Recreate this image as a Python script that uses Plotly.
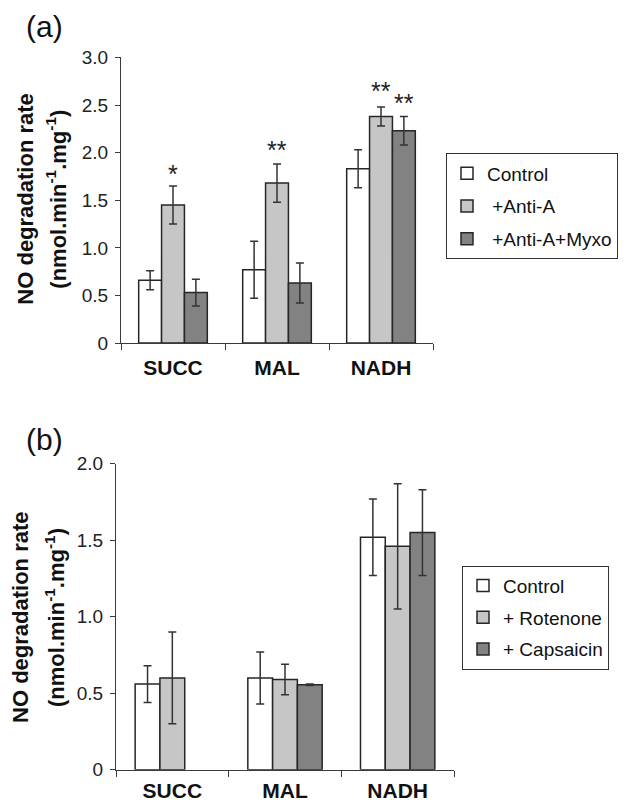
import plotly.graph_objects as go

W, H = 624, 812

categories = ["SUCC", "MAL", "NADH"]

# Panel (a)
a_names = ["Control", " +Anti-A", " +Anti-A+Myxo"]
a_control = [0.66, 0.77, 1.83]
a_control_err = [0.10, 0.30, 0.20]
a_antiA = [1.45, 1.68, 2.38]
a_antiA_err = [0.20, 0.20, 0.10]
a_myxo = [0.53, 0.63, 2.23]
a_myxo_err = [0.14, 0.21, 0.15]
a_stars = [("SUCC", 1, "*", 1.82), ("MAL", 1, "**", 2.07),
           ("NADH", 1, "**", 2.69), ("NADH", 2, "**", 2.56)]
a_ticks = [0, 0.5, 1.0, 1.5, 2.0, 2.5, 3.0]
a_ticktext = ["0", "0.5", "1.0", "1.5", "2.0", "2.5", "3.0"]

# Panel (b)
b_names = ["Control", "+ Rotenone", "+ Capsaicin"]
b_control = [0.56, 0.60, 1.52]
b_control_err = [0.12, 0.17, 0.25]
b_rot = [0.60, 0.59, 1.46]
b_rot_err = [0.30, 0.10, 0.41]
b_caps = [None, 0.555, 1.55]
b_caps_err = [0, 0.005, 0.28]
b_ticks = [0, 0.5, 1.0, 1.5, 2.0]
b_ticktext = ["0", "0.5", "1.0", "1.5", "2.0"]

colors = ["#ffffff", "#c6c6c6", "#828282"]
edge = "#262626"
axis_col = "#3a3a3a"
FONT = "Liberation Sans, Arial, sans-serif"

def px_x(p):
    return p / W

def px_y(p):
    return 1 - p / H

fig = go.Figure()

a_series = [(a_control, a_control_err), (a_antiA, a_antiA_err), (a_myxo, a_myxo_err)]
for i, (vals, errs) in enumerate(a_series):
    fig.add_trace(go.Bar(
        x=categories, y=vals, name=a_names[i], xaxis="x", yaxis="y",
        marker=dict(color=colors[i], line=dict(color=edge, width=1.5)),
        error_y=dict(type="data", array=errs, color="#333333", thickness=1.5, width=4),
        legend="legend", legendgroup="a%d" % i,
    ))

b_series = [(b_control, b_control_err), (b_rot, b_rot_err), (b_caps, b_caps_err)]
for i, (vals, errs) in enumerate(b_series):
    fig.add_trace(go.Bar(
        x=categories, y=vals, name=b_names[i], xaxis="x2", yaxis="y2",
        marker=dict(color=colors[i], line=dict(color=edge, width=1.5)),
        error_y=dict(type="data", array=errs, color="#333333", thickness=1.5, width=4),
        legend="legend2", legendgroup="b%d" % i,
    ))

bargap = 0.34
xa_dom = [px_x(121), px_x(433)]
ya_dom = [px_y(341.9), px_y(48.7)]
xb_dom = [px_x(116), px_x(454)]
yb_dom = [px_y(779.9), px_y(465.8)]

def xaxis(domain, anchor, standoff):
    return dict(domain=domain, anchor=anchor, type="category",
                categoryorder="array", categoryarray=categories,
                range=[-0.5, 2.5], showline=True, linecolor=axis_col, linewidth=1.3,
                ticks="outside", ticklen=6, tickcolor=axis_col, tickwidth=1.3,
                tickson="boundaries", showgrid=False, zeroline=False,
                ticklabelstandoff=standoff,
                tickfont=dict(family=FONT, size=21, color="#111111", weight="bold"))

def yaxis(domain, anchor, rng, tv, tt):
    return dict(domain=domain, anchor=anchor, range=rng, showline=True,
                linecolor=axis_col, linewidth=1.3, ticks="outside", ticklen=5,
                tickcolor=axis_col, tickwidth=1.3, tickvals=tv, ticktext=tt,
                showgrid=False, zeroline=False, ticklabelstandoff=3,
                tickfont=dict(family=FONT, size=19, color="#222222"))

fig.update_layout(
    width=W, height=H, margin=dict(l=0, r=0, t=0, b=0),
    paper_bgcolor="white", plot_bgcolor="white",
    barmode="group", bargap=bargap, bargroupgap=0,
    font=dict(family=FONT, color="#111111"),
    xaxis=xaxis(xa_dom, "y", 6),
    yaxis=yaxis(ya_dom, "x", [0, 3], a_ticks, a_ticktext),
    xaxis2=xaxis(xb_dom, "y2", 2),
    yaxis2=yaxis(yb_dom, "x2", [0, 2], b_ticks, b_ticktext),
    legend=dict(x=px_x(446), y=px_y(147.3), xanchor="left", yanchor="top",
                bordercolor="#333333", borderwidth=1, bgcolor="white",
                font=dict(family=FONT, size=19, color="#111111"),
                traceorder="grouped", tracegroupgap=5, itemwidth=30),
    legend2=dict(x=px_x(462), y=px_y(570.5), xanchor="left", yanchor="top",
                 bordercolor="#333333", borderwidth=1, bgcolor="white",
                 font=dict(family=FONT, size=19, color="#111111"),
                 traceorder="grouped", tracegroupgap=4, itemwidth=30),
)

# significance stars above bars
cat_px = (xa_dom[1] - xa_dom[0]) * W / len(categories)
bar_px = cat_px * (1 - bargap) / 3
for cat, idx, txt, yv in a_stars:
    fig.add_annotation(x=cat, y=yv, xref="x", yref="y", text=txt, showarrow=False,
                       xshift=(idx - 1) * bar_px, yshift=-4, yanchor="middle",
                       font=dict(family=FONT, size=25, color="#222222"))

# y-axis titles (two lines each)
for yc, x1, x2 in [(194.7, 26, 56), (624.1, 21, 55)]:
    fig.add_annotation(x=px_x(x1), y=px_y(yc), xref="paper", yref="paper",
                       text="<b>NO degradation rate</b>", textangle=-90, showarrow=False,
                       xanchor="center", yanchor="middle",
                       font=dict(family=FONT, size=22, color="#111111"))
    fig.add_annotation(x=px_x(x2), y=px_y(yc), xref="paper", yref="paper",
                       text="<b>(nmol.min<sup>-1</sup>.mg<sup>-1</sup>)</b>", textangle=-90,
                       showarrow=False, xanchor="center", yanchor="middle",
                       font=dict(family=FONT, size=22, color="#111111"))

# panel labels
for lab, yc in [("(a)", 16.5), ("(b)", 440.8)]:
    fig.add_annotation(x=px_x(45), y=px_y(yc), xref="paper", yref="paper",
                       text=lab, showarrow=False, xanchor="center", yanchor="middle",
                       font=dict(family=FONT, size=30, color="#111111"))

fig.write_html(
    "out.html",
    config={"displayModeBar": False},
    post_script=(
        "document.documentElement.style.margin='0';"
        "document.body.style.margin='0';"
        "document.body.style.padding='0';"
        "document.body.style.overflow='hidden';"
        "var gd=document.querySelector('.plotly-graph-div');"
        "gd.style.position='fixed';gd.style.top='0px';gd.style.left='0px';"
    ),
)
